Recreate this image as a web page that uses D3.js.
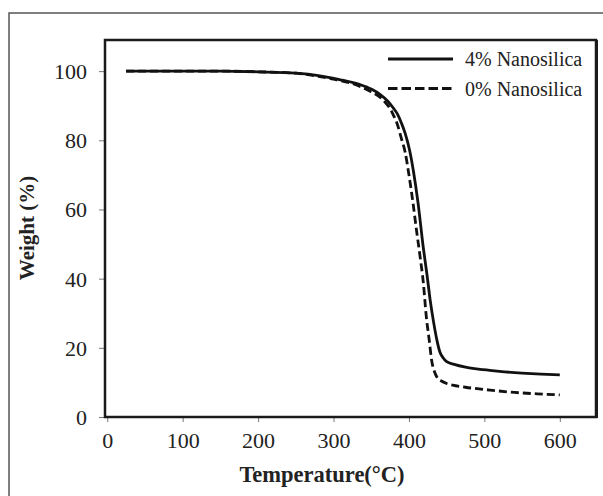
<!DOCTYPE html>
<html lang="en">
<head>
  <meta charset="UTF-8">
  <title>TGA Nanosilica</title>
  <script src="https://d3js.org/d3.v7.min.js"></script>
  <style>
    body, html {
      margin: 0;
      background: #fff;
    }
    svg text { font-family: 'Liberation Serif', 'DejaVu Serif', serif; fill: #222; }
  </style>
</head>
<body>
<svg id="chart" width="603" height="496"></svg>
<script>
  // 4% Nanosilica (solid)
  const temp4 = [25, 100, 150, 200, 250, 280, 300, 309, 335, 350, 362, 372, 379, 385, 390, 395, 401, 406, 412, 419, 424, 428, 433, 437, 441, 445, 450, 460, 475, 494, 507, 520, 550, 575, 600];
  const weight4 = [100, 100, 100, 99.8, 99.4, 98.7, 97.9, 97.5, 96.1, 94.8, 93.2, 91.3, 89.4, 87.5, 85, 82, 77, 71, 62, 49, 41, 34, 27, 22.3, 18.8, 17.2, 16, 15.2, 14.4, 13.8, 13.5, 13.2, 12.7, 12.4, 12.2];

  // 0% Nanosilica (dashed)
  const temp0 = [25, 100, 150, 200, 250, 280, 300, 335, 350, 362, 370, 375, 380, 384, 390, 395, 400, 405, 410, 415, 419, 423, 427, 430, 434, 438, 443, 450, 458, 475, 507, 540, 570, 600];
  const weight0 = [100, 100, 100, 99.8, 99.4, 98.5, 97.7, 95.6, 94, 92.4, 90.6, 89.2, 87, 85, 80.5, 76.5, 70, 62.5, 54, 46, 39, 29, 22, 16.5, 13, 11.2, 10.4, 9.7, 9.2, 8.6, 7.8, 7.1, 6.7, 6.4];

  const xTicks = [0, 100, 200, 300, 400, 500, 600];
  const yTicks = [0, 20, 40, 60, 80, 100];
  const legendLabels = ["4% Nanosilica", "0% Nanosilica"];

  const svg = d3.select("#chart");
  const margin = { top: 40, right: 7, bottom: 79, left: 105 };
  const width = 603 - margin.left - margin.right;
  const height = 496 - margin.top - margin.bottom;

  // outer frame
  svg.append("rect")
      .attr("x", 9).attr("y", 13)
      .attr("width", 620).attr("height", 520)
      .attr("fill", "none")
      .attr("stroke", "#555")
      .attr("stroke-width", 1.5);

  const x = d3.scaleLinear().domain([-3, 648]).range([0, width]);
  const y = d3.scaleLinear().domain([0, 109]).range([height, 0]);

  const g = svg.append("g")
      .attr("transform", `translate(${margin.left},${margin.top})`);

  const xAxis = g.append("g")
      .attr("transform", `translate(0,${height})`)
      .call(d3.axisBottom(x).tickValues(xTicks).tickSize(5).tickPadding(10));
  xAxis.attr("font-family", null);
  xAxis.select(".domain").remove();
  xAxis.selectAll(".tick line").attr("stroke", "#777");
  xAxis.selectAll(".tick text").style("font-size", "22px");

  const yAxis = g.append("g")
      .call(d3.axisLeft(y).tickValues(yTicks).tickSize(6).tickPadding(12));
  yAxis.attr("font-family", null);
  yAxis.select(".domain").remove();
  yAxis.selectAll(".tick line").attr("stroke", "#777");
  yAxis.selectAll(".tick text").style("font-size", "22px").attr("dy", "0.34em");

  // plot box (heavier right edge, like the original)
  g.append("rect")
      .attr("x", 0).attr("y", 0)
      .attr("width", width).attr("height", height)
      .attr("fill", "none")
      .attr("stroke", "#1a1a1a")
      .attr("stroke-width", 2.5);
  g.append("line")
      .attr("x1", width + 1).attr("x2", width + 1)
      .attr("y1", 0).attr("y2", height + 1)
      .attr("stroke", "#1a1a1a")
      .attr("stroke-width", 2);

  const line = d3.line()
      .x(d => x(d[0]))
      .y(d => y(d[1]))
      .curve(d3.curveMonotoneX);

  const data4 = temp4.map((t, i) => [t, weight4[i]]);
  const data0 = temp0.map((t, i) => [t, weight0[i]]);

  g.append("path")
      .datum(data0)
      .attr("fill", "none")
      .attr("stroke", "#111")
      .attr("stroke-width", 2.8)
      .attr("stroke-dasharray", "8,4")
      .attr("d", line);

  g.append("path")
      .datum(data4)
      .attr("fill", "none")
      .attr("stroke", "#111")
      .attr("stroke-width", 2.8)
      .attr("d", line);

  // legend
  const legend = g.append("g").attr("transform", "translate(283,19)");
  legendLabels.forEach((lab, i) => {
    legend.append("line")
        .attr("x1", 0).attr("x2", 65)
        .attr("y1", i * 29.5).attr("y2", i * 29.5)
        .attr("stroke", "#111")
        .attr("stroke-width", 3)
        .attr("stroke-dasharray", i === 1 ? "9.5,4" : null);
    legend.append("text")
        .attr("x", 77).attr("y", i * 29.5 + 7)
        .style("font-size", "20px")
        .text(lab);
  });

  // axis labels
  svg.append("text")
      .attr("x", 322)
      .attr("y", 482)
      .attr("text-anchor", "middle")
      .style("font-size", "22.5px")
      .style("font-weight", "bold")
      .text("Temperature(°C)");

  svg.append("text")
      .attr("transform", "translate(34,228) rotate(-90)")
      .attr("text-anchor", "middle")
      .style("font-size", "21px")
      .style("font-weight", "bold")
      .text("Weight (%)");
</script>
</body>
</html>
